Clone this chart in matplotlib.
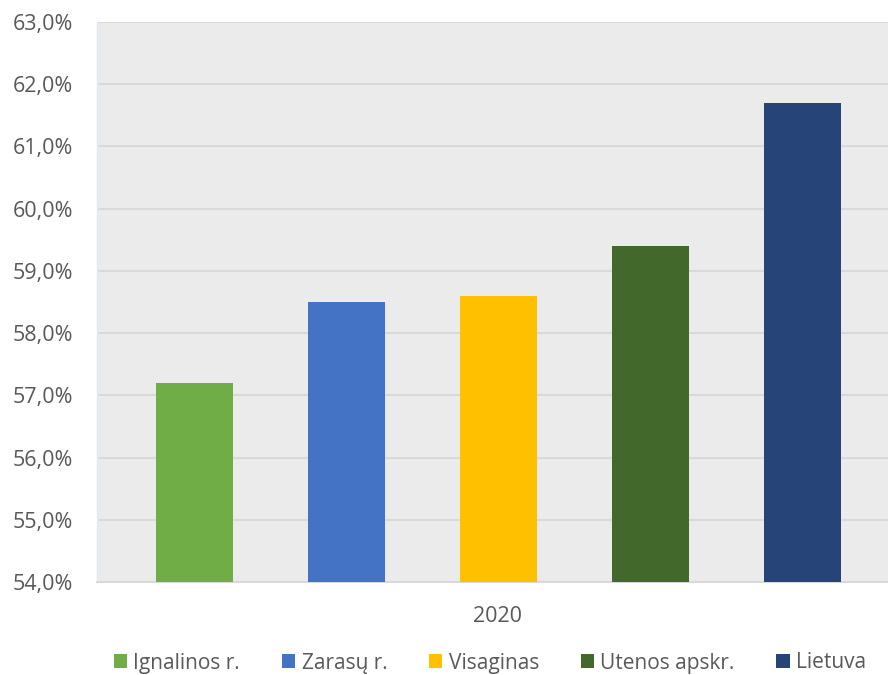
import matplotlib
matplotlib.use("Agg")
import matplotlib.pyplot as plt
from matplotlib.ticker import FuncFormatter
from matplotlib.patches import Patch

categories = ["Ignalinos r.", "Zarasų r.", "Visaginas", "Utenos apskr.", "Lietuva"]
values = [57.2, 58.5, 58.6, 59.4, 61.7]
colors = ["#70AD47", "#4472C4", "#FFC000", "#43682B", "#264478"]
year_label = "2020"
yticks = [54, 55, 56, 57, 58, 59, 60, 61, 62, 63]

plt.rcParams['font.family'] = ['Open Sans', 'DejaVu Sans']
txt = "#595959"

fig = plt.figure(figsize=(8.88, 6.75), dpi=100)
ax = fig.add_axes([97/888, 93/675, 791/888, 560/675])
ax.set_facecolor("#EBEBEB")

x = list(range(len(values)))
ax.bar(x, [v - 54 for v in values], bottom=54, width=0.507, color=colors, zorder=3)

ax.set_ylim(54, 63)
ax.set_xlim(-0.645, 4.566)
ax.set_yticks(yticks)
ax.yaxis.set_major_formatter(FuncFormatter(lambda v, p: f"{v:.1f}".replace(".", ",") + "%"))
ax.grid(axis="y", color="#D9D9D9", linewidth=1.5, zorder=1)
ax.tick_params(axis="y", length=0, labelsize=15.5, labelcolor=txt, pad=17)
ax.set_xticks([])
for s in ["top", "right"]:
    ax.spines[s].set_visible(False)
ax.spines["left"].set_color("#DDEBF7")
ax.spines["left"].set_linewidth(1.0)
ax.spines["bottom"].set_color("#D9D9D9")
ax.spines["bottom"].set_linewidth(1.5)

fig.text(497/888, 1 - 616/675, year_label, ha="center", va="center", fontsize=15.5, color=txt)

handles = [Patch(facecolor=c, edgecolor="none") for c in colors]
fig.legend(handles, categories, loc="center", bbox_to_anchor=(490/888, 1 - 663/675), ncol=5,
           frameon=False, fontsize=15, labelcolor=txt, handlelength=0.65, handleheight=0.65,
           handletextpad=0.3, columnspacing=2.0)

fig.savefig("out.png", dpi=100, facecolor="white")
